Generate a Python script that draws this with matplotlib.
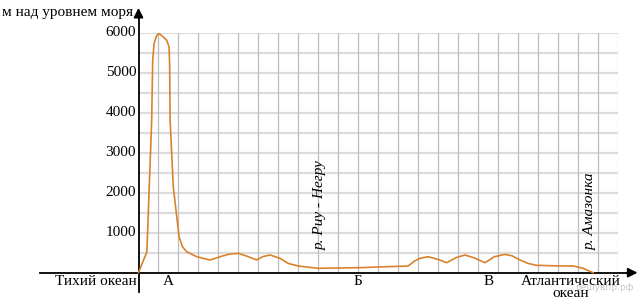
import matplotlib
matplotlib.use("Agg")
import matplotlib.pyplot as plt

# profile data: distance (grid units) and elevation (m)
dist = [0, 0.42, 0.66, 0.71, 0.78, 0.91, 1.03, 1.2, 1.41, 1.53, 1.56, 1.58, 1.74, 2.03, 2.2,
        2.41, 2.91, 3.58, 4.08, 4.5, 4.99, 5.5, 5.91, 6.2, 6.58, 7.08, 7.5, 7.99, 8.99,
        10.99, 13.49, 13.8, 14.08, 14.49, 15.0, 15.41, 15.9, 16.33, 16.8, 17.33, 17.8,
        18.33, 18.7, 19.08, 19.5, 19.91, 21.0, 21.74, 22.24, 22.74]
elev = [0, 525, 3817, 5317, 5735, 5940, 5985, 5920, 5817, 5650, 5150, 3817, 2150, 900, 650,
        525, 400, 318, 400, 460, 485, 400, 318, 400, 443, 360, 230, 168, 110,
        125, 168, 290, 360, 400, 330, 250, 380, 443, 370, 250, 400,
        460, 420, 318, 230, 185, 170, 168, 110, 0]
yticks = [1000, 2000, 3000, 4000, 5000, 6000]
points = ["А", "Б", "В"]
point_x = [1.49, 10.99, 17.53]

serif = ["Liberation Serif", "DejaVu Serif"]
fs = 11

fig = plt.figure(figsize=(6.44, 2.99), dpi=100)
ax = fig.add_axes([138.5 / 644, 26.3 / 299, (618.3 - 138.5) / 644, (272.7 - 33) / 299])
ax.set_xlim(0, 24)
ax.set_ylim(0, 6000)
ax.axis("off")

# grid
for yv in range(500, 6001, 500):
    ax.plot([0, 24], [yv, yv], color="#dcdcdc", lw=1.6, zorder=1, solid_capstyle="butt")
for xv in range(1, 25):
    ax.plot([xv, xv], [0, 6000], color="#bdbdbd", lw=0.9, zorder=1.1, solid_capstyle="butt")

# axes lines with arrows
ax.plot([-4.93, 24.6], [0, 0], color="black", lw=1.3, clip_on=False, zorder=3)
ax.annotate("", xy=(25.1, 0), xytext=(24.3, 0),
            arrowprops=dict(arrowstyle="-|>", color="black", lw=1.3, mutation_scale=14),
            annotation_clip=False)
ax.plot([0, 0], [-483, 6500], color="black", lw=1.3, clip_on=False, zorder=3)
ax.annotate("", xy=(0, 6700), xytext=(0, 6300),
            arrowprops=dict(arrowstyle="-|>", color="black", lw=1.3, mutation_scale=14),
            annotation_clip=False)

# profile
ax.plot(dist, elev, color="#d9822b", lw=1.2, zorder=4, clip_on=False)

# labels
for yv in yticks:
    ax.text(-0.12, yv, str(yv), ha="right", va="center", family=serif, fontsize=fs)
ax.text(-0.25, 6518, "м над уровнем моря", ha="right", va="center", family=serif, fontsize=fs)
ax.text(-0.08, -232, "Тихий океан", ha="right", va="center", family=serif, fontsize=fs)
for lbl, xv in zip(points, point_x):
    ax.text(xv, -232, lbl, ha="center", va="center", family=serif, fontsize=fs)
ax.text(21.6, -225, "Атлантический", ha="center", va="center", family=serif, fontsize=fs)
ax.text(21.6, -515, "океан", ha="center", va="center", family=serif, fontsize=fs)
ax.text(9.08, 1688, "р. Риу - Негру", rotation=90, ha="center", va="center",
        family=serif, fontsize=fs, style="italic")
ax.text(22.58, 1543, "р. Амазонка", rotation=90, ha="center", va="center",
        family=serif, fontsize=fs, style="italic")
ax.text(23.3, -380, "решувпр.рф", ha="center", va="center", fontsize=6.5,
        color="#c8c8c8", family=["DejaVu Sans"], zorder=0)

fig.savefig("out.png", dpi=100)
